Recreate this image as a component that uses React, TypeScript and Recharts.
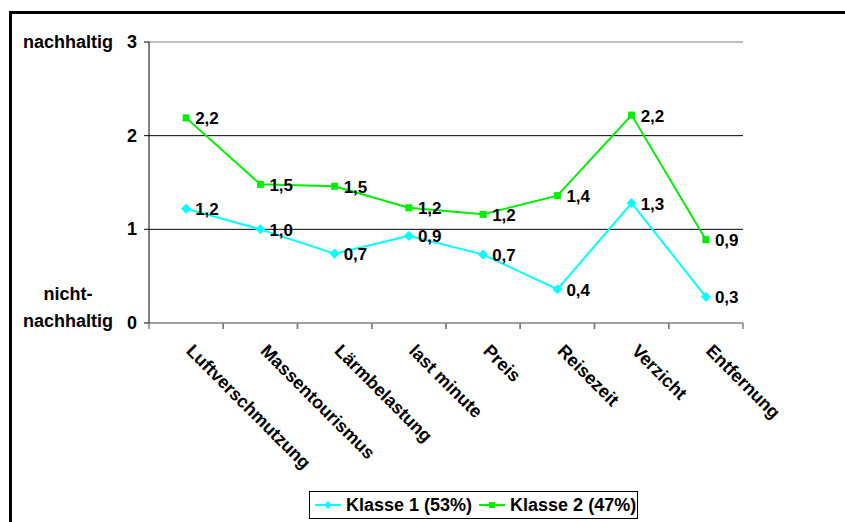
import { LineChart, Line, XAxis, YAxis, ReferenceLine, Legend, LabelList } from 'recharts';

const categories = [
  'Luftverschmutzung',
  'Massentourismus',
  'Lärmbelastung',
  'last minute',
  'Preis',
  'Reisezeit',
  'Verzicht',
  'Entfernung',
];

const klasse1 = [1.22, 1.0, 0.74, 0.93, 0.73, 0.36, 1.28, 0.28];
const klasse2 = [2.19, 1.48, 1.46, 1.23, 1.16, 1.36, 2.22, 0.89];

const seriesNames = ['Klasse 1 (53%)', 'Klasse 2 (47%)'];

const yTicks = [0, 1, 2, 3];
// extra text next to the numeric y ticks
const yTopLabel = 'nachhaltig';
const yBottomLabel = ['nicht-', 'nachhaltig'];

const FONT = '"Liberation Sans", Arial, sans-serif';
const CYAN = '#00FFFF';
const GREEN = '#00EE00';

const chartData = categories.map((name, i) => ({
  name,
  k1: klasse1[i],
  k2: klasse2[i],
}));

const fmt = (v: number) => v.toFixed(1).replace('.', ',');

const YTick = (props: any) => {
  const { x, y, payload } = props;
  return (
    <g fontFamily={FONT} fontWeight="bold" fill="#000">
      <text x={x} y={y} textAnchor="end" dominantBaseline="central" fontSize={18}>
        {payload.value}
      </text>
      {payload.value === 3 && (
        <text x={x - 24} y={y} textAnchor="end" dominantBaseline="central" fontSize={18}>
          {yTopLabel}
        </text>
      )}
      {payload.value === 0 && (
        <g>
          <text x={x - 69} y={y - 29} textAnchor="middle" dominantBaseline="central" fontSize={18}>
            {yBottomLabel[0]}
          </text>
          <text x={x - 69} y={y - 2} textAnchor="middle" dominantBaseline="central" fontSize={18}>
            {yBottomLabel[1]}
          </text>
        </g>
      )}
    </g>
  );
};

// category labels run diagonally; tick marks sit on the category boundaries
const XTick = (props: any) => {
  const { x, y, payload } = props;
  const half = 594 / categories.length / 2;
  const tx = x - 1;
  const ty = y + 29;
  return (
    <g>
      <line x1={x - half} x2={x - half} y1={y} y2={y + 6} stroke="#808080" strokeWidth={1.5} />
      <line x1={x + half} x2={x + half} y1={y} y2={y + 6} stroke="#808080" strokeWidth={1.5} />
      <text
        x={tx}
        y={ty}
        transform={`rotate(45, ${tx}, ${ty})`}
        textAnchor="start"
        fontFamily={FONT}
        fontWeight="bold"
        fontSize={18}
        fill="#000"
      >
        {payload.value}
      </text>
    </g>
  );
};

const Diamond = ({ cx, cy, r = 4.5, color }: any) => (
  <polygon points={`${cx},${cy - r} ${cx + r},${cy} ${cx},${cy + r} ${cx - r},${cy}`} fill={color} stroke={color} />
);

const Square = ({ cx, cy, s = 7, color }: any) => (
  <rect x={cx - s / 2} y={cy - s / 2} width={s} height={s} fill={color} />
);

const ValueLabel = (props: any) => {
  const { x, y, value } = props;
  return (
    <text x={x + 9} y={y + 1} dominantBaseline="central" fontFamily={FONT} fontWeight="bold" fontSize={17} fill="#000">
      {fmt(value)}
    </text>
  );
};

const LegendBox = () => (
  <div
    style={{
      display: 'inline-flex',
      alignItems: 'center',
      height: 28,
      boxSizing: 'border-box',
      border: '1px solid #000',
      padding: '0 1px 0 5px',
      fontFamily: FONT,
      fontWeight: 'bold',
      fontSize: 18,
      background: '#fff',
      whiteSpace: 'nowrap',
    }}
  >
    <svg width={26} height={10}>
      <line x1={0} x2={26} y1={5} y2={5} stroke={CYAN} strokeWidth={2} />
      <Diamond cx={13} cy={5} r={3.5} color={CYAN} />
    </svg>
    <span style={{ marginLeft: 5, marginRight: 7 }}>{seriesNames[0]}</span>
    <svg width={26} height={10}>
      <line x1={0} x2={26} y1={5} y2={5} stroke={GREEN} strokeWidth={2} />
      <Square cx={13} cy={5} s={6} color={GREEN} />
    </svg>
    <span style={{ marginLeft: 5 }}>{seriesNames[1]}</span>
  </div>
);

export default function App() {
  return (
    <div style={{ position: 'absolute', left: 0, top: 0, width: 845, height: 522, overflow: 'hidden', background: '#fff' }}>
      <div
        style={{
          position: 'absolute',
          left: 9,
          top: 11,
          width: 836,
          height: 511,
          boxSizing: 'border-box',
          borderLeft: '3px solid #000',
          borderTop: '3px solid #000',
        }}
      />
      <div style={{ position: 'absolute', left: 0, top: 0 }}>
        <LineChart width={845} height={522} data={chartData} margin={{ top: 42, right: 102, left: 0, bottom: 3 }}>
          <ReferenceLine y={3} stroke="#c0c0c0" strokeWidth={2} />
          <ReferenceLine y={2} stroke="#000" strokeWidth={1} />
          <ReferenceLine y={1} stroke="#000" strokeWidth={1} />
          <XAxis
            dataKey="name"
            scale="band"
            interval={0}
            height={168}
            axisLine={{ stroke: '#808080', strokeWidth: 1.5 }}
            tickLine={false}
            tickSize={0}
            tickMargin={0}
            tick={<XTick />}
          />
          <YAxis
            width={149}
            domain={[0, 3]}
            ticks={yTicks}
            interval={0}
            axisLine={{ stroke: '#000' }}
            tickLine={{ stroke: '#000' }}
            tickSize={5}
            tickMargin={7}
            tick={<YTick />}
          />
          <Legend content={<LegendBox />} wrapperStyle={{ left: 309, width: 340, bottom: 3 }} />
          <Line
            dataKey="k1"
            name={seriesNames[0]}
            stroke={CYAN}
            strokeWidth={2}
            isAnimationActive={false}
            dot={(p: any) => <Diamond key={`k1-${p.index}`} cx={p.cx} cy={p.cy} color={CYAN} />}
            activeDot={false}
          >
            <LabelList dataKey="k1" content={<ValueLabel />} />
          </Line>
          <Line
            dataKey="k2"
            name={seriesNames[1]}
            stroke={GREEN}
            strokeWidth={2}
            isAnimationActive={false}
            dot={(p: any) => <Square key={`k2-${p.index}`} cx={p.cx} cy={p.cy} color={GREEN} />}
            activeDot={false}
          >
            <LabelList dataKey="k2" content={<ValueLabel />} />
          </Line>
        </LineChart>
      </div>
    </div>
  );
}
